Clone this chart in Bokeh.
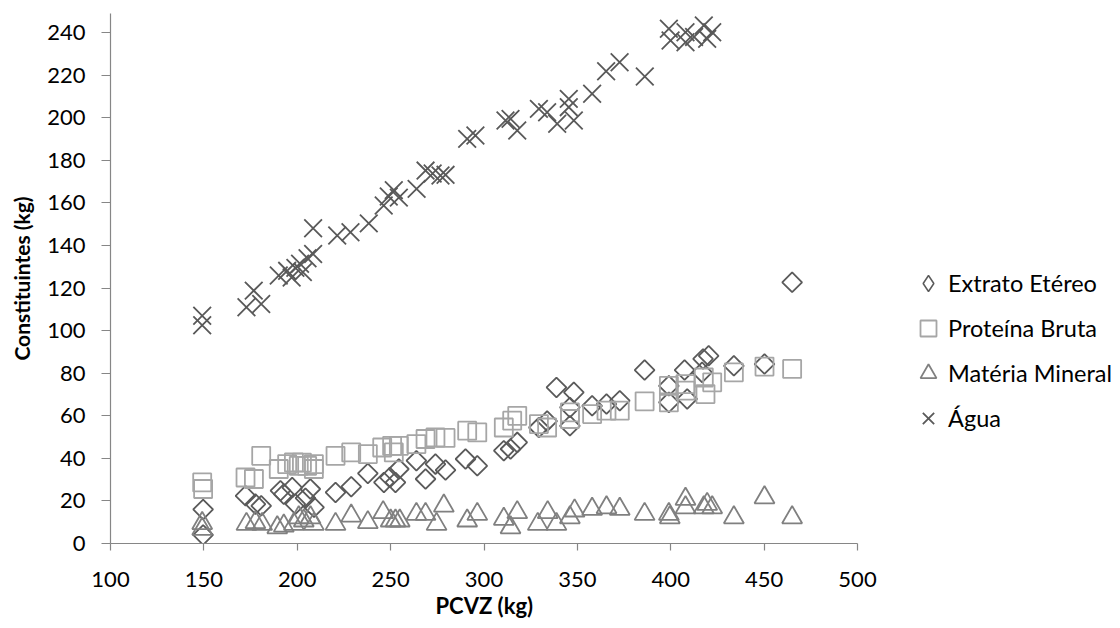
import numpy as np
from bokeh.plotting import figure
from bokeh.models import Range1d, Legend, LegendItem, FixedTicker, Title
from bokeh.embed import file_html
from bokeh.resources import INLINE

# ---- data ----
ee_x = [149.6, 149.6, 172.3, 177.6, 180.7, 191.0, 192.8, 197.3, 199.0, 204.4, 207.0, 209.0,
        220.5, 228.9, 237.8, 246.4, 249.6, 252.6, 254.4, 263.8, 268.7, 274.0, 279.4, 290.1,
        296.4, 310.6, 314.2, 317.8, 329.4, 333.8, 338.8, 346.0, 346.0, 348.1, 357.9, 365.6,
        372.7, 386.0, 399.0, 399.0, 407.4, 408.8, 416.8, 417.3, 420.3, 433.8, 450.2, 465.0]
ee_y = [16.0, 4.0, 22.4, 18.5, 17.7, 24.8, 23.2, 26.3, 18.5, 21.3, 25.6, 17.0,
        24.0, 26.7, 32.9, 28.7, 31.0, 28.7, 35.0, 38.9, 30.3, 37.3, 34.5, 39.7,
        36.5, 43.6, 44.4, 47.5, 54.5, 57.5, 73.3, 63.9, 55.3, 71.0, 64.7, 65.5,
        67.1, 81.5, 74.1, 66.3, 81.5, 67.9, 80.4, 86.7, 88.2, 83.5, 84.3, 122.7]

pb_x = [149.1, 149.6, 172.3, 176.8, 180.7, 190.1, 194.6, 198.2, 200.8, 202.5, 205.3, 208.9,
        208.9, 220.5, 228.9, 237.8, 245.5, 250.8, 251.7, 254.4, 263.8, 268.7, 274.0, 279.4,
        291.0, 296.4, 310.6, 315.1, 317.8, 329.4, 333.8, 346.0, 346.0, 357.9, 365.6, 372.7,
        386.0, 399.0, 399.0, 407.9, 407.9, 417.7, 418.6, 422.2, 433.8, 450.2, 465.0]
pb_y = [28.7, 25.6, 31.0, 30.3, 41.2, 35.0, 37.3, 38.1, 36.5, 38.0, 36.5, 37.3,
        35.0, 41.2, 42.8, 42.0, 45.1, 45.9, 42.8, 45.9, 46.7, 49.1, 49.8, 49.6,
        53.0, 52.2, 54.5, 57.7, 60.0, 56.1, 54.5, 61.6, 58.5, 60.8, 62.4, 62.4,
        66.8, 74.1, 66.3, 74.9, 71.8, 78.0, 70.2, 75.7, 80.4, 83.1, 82.0]

mm_x = [149.1, 149.1, 172.8, 177.6, 181.2, 189.3, 192.8, 198.2, 200.8, 203.5, 207.1, 208.9,
        220.5, 228.9, 237.8, 246.0, 250.0, 252.6, 254.9, 263.8, 268.7, 274.6, 278.5, 291.0,
        296.4, 310.6, 314.2, 317.8, 328.8, 334.1, 338.8, 346.0, 348.5, 357.9, 365.6, 372.7,
        386.0, 399.0, 399.5, 407.9, 407.9, 417.7, 419.5, 422.2, 433.8, 450.2, 465.0]
mm_y = [9.5, 6.8, 9.1, 9.9, 9.1, 7.5, 8.3, 9.1, 12.2, 10.7, 12.2, 9.1,
        9.1, 13.0, 9.9, 14.6, 10.7, 10.7, 10.7, 13.8, 13.8, 9.1, 17.7, 10.7,
        13.8, 11.5, 7.5, 14.6, 9.1, 14.6, 9.1, 12.2, 15.4, 16.2, 16.9, 16.2,
        13.8, 13.8, 12.2, 20.9, 16.9, 16.9, 18.5, 16.9, 12.2, 21.6, 12.2]

agua_x = [149.1, 149.1, 172.8, 176.7, 180.7, 190.1, 194.6, 197.0, 199.0, 201.5, 203.0, 205.5,
          208.5, 208.5, 221.4, 228.5, 238.3, 246.3, 249.0, 251.7, 254.4, 263.9, 268.7, 272.5,
          276.7, 279.4, 291.0, 295.4, 311.5, 314.2, 317.8, 329.4, 333.8, 339.2, 345.4, 345.4,
          348.1, 357.9, 365.4, 372.6, 386.1, 399.0, 399.9, 407.9, 407.9, 412.5, 417.7, 419.5, 422.2]
agua_y = [107.0, 102.5, 111.0, 118.8, 112.5, 125.9, 128.1, 125.0, 129.5, 131.4, 127.5, 134.0,
          136.0, 148.1, 144.7, 146.2, 150.4, 158.8, 163.0, 166.0, 162.5, 166.6, 175.2, 173.8,
          172.9, 173.2, 190.1, 191.7, 198.7, 199.5, 194.0, 204.2, 202.6, 197.2, 208.9, 205.0,
          198.7, 211.3, 221.9, 226.1, 219.4, 241.8, 236.3, 240.2, 235.5, 238.0, 243.4, 237.1, 240.2]

series_names = ["Extrato Etéreo", "Proteína Bruta", "Matéria Mineral", "Água"]
x_ticks = [100, 150, 200, 250, 300, 350, 400, 450, 500]
y_ticks = [0, 20, 40, 60, 80, 100, 120, 140, 160, 180, 200, 220, 240]
x_title = "PCVZ (kg)"
y_title = "Constituintes (kg)"

FONT = "Lato"
AXIS_COLOR = "#868686"
LW = 1.8
C_EE, C_PB, C_MM, C_AG = "#5a5a5a", "#a6a6a6", "#808080", "#595959"

X_MIN, X_MAX = 100, 500
FRAME_LEFT, FRAME_W_AXIS = 110, 747          # axis 100..500 spans 747 px
W, H = 1120, 628
x_end = X_MIN + (X_MAX - X_MIN) * (W - FRAME_LEFT) / FRAME_W_AXIS  # frame runs to the right edge

p = figure(width=W, height=H, output_backend="svg", toolbar_location=None,
           x_range=Range1d(X_MIN, x_end), y_range=Range1d(0, 249),
           min_border_left=FRAME_LEFT, min_border_right=0, min_border_top=13, min_border_bottom=85)
p.outline_line_color = None
p.xgrid.grid_line_color = None
p.ygrid.grid_line_color = None
p.background_fill_color = "white"
p.border_fill_color = "white"

r_ee = p.scatter(ee_x, ee_y, marker="square", size=14, angle=np.pi / 4,
                 fill_color=None, line_color=C_EE, line_width=LW)
r_pb = p.scatter(pb_x, pb_y, marker="square", size=18,
                 fill_color=None, line_color=C_PB, line_width=LW)
r_mm = p.scatter(mm_x, mm_y, marker="triangle", size=20,
                 fill_color=None, line_color=C_MM, line_width=LW)
r_ag = p.scatter(agua_x, agua_y, marker="x", size=25,
                 line_color=C_AG, line_width=LW)

# key glyph for the legend (legend keys are drawn unrotated); zero size in the plot itself
r_ee_key = p.scatter(ee_x, ee_y, marker="diamond", size=0,
                     fill_color=None, line_color=C_EE, line_width=1.5)

xa, ya = p.xaxis[0], p.yaxis[0]
xa.bounds = (X_MIN, X_MAX)
for ax in (xa, ya):
    ax.axis_line_color = AXIS_COLOR
    ax.axis_line_width = 1.2
    ax.major_tick_line_color = AXIS_COLOR
    ax.major_tick_line_width = 1.2
    ax.minor_tick_line_color = None
    ax.major_tick_in = 0
    ax.major_label_text_font = FONT
    ax.major_label_text_font_size = "22px"
    ax.major_label_text_color = "#000000"

xa.ticker = FixedTicker(ticks=x_ticks)
ya.ticker = FixedTicker(ticks=y_ticks)
xa.major_tick_out = 7
ya.major_tick_out = 9
xa.major_label_standoff = 21
ya.major_label_standoff = 16

ya.axis_label = y_title
ya.axis_label_standoff = 10
ya.axis_label_text_font = FONT
ya.axis_label_text_font_style = "bold"
ya.axis_label_text_font_size = "21px"
ya.axis_label_text_color = "#000000"

# x-axis title centred under the 100..500 axis
p.add_layout(Title(text=x_title, align="left", offset=325, standoff=0,
                   text_font=FONT, text_font_style="bold", text_font_size="22px",
                   text_color="#000000"), "below")

legend = Legend(items=[LegendItem(label=series_names[0], renderers=[r_ee_key]),
                       LegendItem(label=series_names[1], renderers=[r_pb]),
                       LegendItem(label=series_names[2], renderers=[r_mm]),
                       LegendItem(label=series_names[3], renderers=[r_ag])],
                location=(798, 105), orientation="vertical",
                glyph_width=40, glyph_height=40, label_height=40, spacing=5,
                label_standoff=-8, padding=0, margin=0,
                label_text_font=FONT, label_text_font_size="23.5px",
                label_text_color="#000000",
                border_line_color=None, background_fill_alpha=0)
p.add_layout(legend, "center")

open("out.html", "w").write(file_html(p, INLINE))
